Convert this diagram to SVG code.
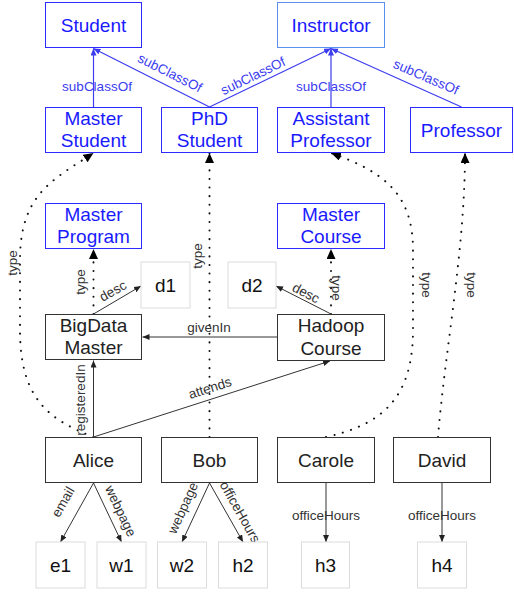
<svg xmlns="http://www.w3.org/2000/svg" width="514" height="593" viewBox="0 0 514 593">
<defs>
<marker id="arrB" markerUnits="userSpaceOnUse" markerWidth="8" markerHeight="8" refX="7" refY="3" orient="auto"><path d="M0,0 L7,3 L0,6 z" fill="#3c3cf0"/></marker>
<marker id="arrK" markerUnits="userSpaceOnUse" markerWidth="8" markerHeight="8" refX="7" refY="3" orient="auto"><path d="M0,0 L7,3 L0,6 z" fill="#222"/></marker>
<marker id="arrT" markerUnits="userSpaceOnUse" markerWidth="12" markerHeight="12" refX="10" refY="4.5" orient="auto"><path d="M0,0 L10,4.5 L0,9 z" fill="#000"/></marker>
</defs>
<style>
text{font-family:"Liberation Sans",Arial,sans-serif;text-anchor:middle}
.cls rect{fill:#fff;stroke:#2b2bff;stroke-width:1}
.cls text{fill:#1a1aff;font-size:19px}
.inst rect{stroke:#5b8ff0}
.ind rect{fill:#fff;stroke:#333;stroke-width:1}
.ind text{fill:#222;font-size:19px}
.lit rect{fill:#fff;stroke:#dcdcdc;stroke-width:1}
.lit text{fill:#111;font-size:19px}
.sub{fill:none;stroke:#3c3cf0;stroke-width:1.2;marker-end:url(#arrB)}
.sol{fill:none;stroke:#333;stroke-width:1;marker-end:url(#arrK)}
.dot{fill:none;stroke:#111;stroke-width:2;stroke-linecap:round;stroke-dasharray:0.1 8.5;marker-end:url(#arrT)}
.lb{font-size:13.5px;fill:#333;dominant-baseline:central}
.lbb{font-size:13.5px;fill:#3c3cf0;dominant-baseline:central}
</style>
<g id="connectors">
<path class="sub" d="M93.5,107 L93.5,48.5"/>
<path class="sub" d="M209.5,107 L93.5,48.5"/>
<path class="sub" d="M209.5,107 L331,48.5"/>
<path class="sub" d="M331,107 L331,48.5"/>
<path class="sub" d="M461.5,107 L331,48.5"/>
<path class="dot" d="M93.5,314 L93.5,249"/>
<path class="dot" d="M331,314 L331,249"/>
<path class="dot" d="M209.5,437 L209.5,153"/>
<path class="dot" d="M93.5,437 C50,420 20,400 20,330 L20,260 C20,195 52,180 93.5,153"/>
<path class="dot" d="M326,437 C380,425 413,400 413,330 L413,250 C413,195 385,172 331,153"/>
<path class="dot" d="M438,437 C445,350 465,250 465,153"/>
<path class="sol" d="M277,337 L142.5,337"/>
<path class="sol" d="M93.5,314 L141,286"/>
<path class="sol" d="M331,314 L276,286"/>
<path class="sol" d="M93.5,437 L93.5,360.5"/>
<path class="sol" d="M93.5,437 L330,361"/>
<path class="sol" d="M93.5,483 L60.5,542"/>
<path class="sol" d="M93.5,483 L121.5,542"/>
<path class="sol" d="M209.5,483 L182,542"/>
<path class="sol" d="M209.5,483 L243,542"/>
<path class="sol" d="M326,483 L326,542"/>
<path class="sol" d="M442,483 L442,542"/>
<text class="lbb" x="97" y="86">subClassOf</text>
<text class="lbb" transform="translate(170,73) rotate(26.8)">subClassOf</text>
<text class="lbb" transform="translate(253,76) rotate(-25.9)">subClassOf</text>
<text class="lbb" x="331" y="86">subClassOf</text>
<text class="lbb" transform="translate(426,77) rotate(23.5)">subClassOf</text>
<text class="lb" transform="translate(80,282) rotate(-90)">type</text>
<text class="lb" transform="translate(113,291) rotate(-29.6)">desc</text>
<text class="lb" transform="translate(197,256) rotate(-90)">type</text>
<text class="lb" transform="translate(12,263) rotate(-90)">type</text>
<text class="lb" transform="translate(306,293) rotate(27.4)">desc</text>
<text class="lb" transform="translate(336,288) rotate(90)">type</text>
<text class="lb" x="209" y="327">givenIn</text>
<text class="lb" transform="translate(426,285) rotate(90)">type</text>
<text class="lb" transform="translate(471.5,285) rotate(90)">type</text>
<text class="lb" transform="translate(80,400) rotate(-90)">registeredIn</text>
<text class="lb" transform="translate(210,388) rotate(-17.7)">attends</text>
<text class="lb" transform="translate(63,502) rotate(-60.3)">email</text>
<text class="lb" transform="translate(120.5,511) rotate(64.5)">webpage</text>
<text class="lb" transform="translate(183,508) rotate(-65.5)">webpage</text>
<text class="lb" transform="translate(240,512) rotate(60.5)">officeHours</text>
<text class="lb" x="326" y="515">officeHours</text>
<text class="lb" x="442" y="515">officeHours</text>
</g>
<g id="Student" class="cls"><rect x="45.5" y="2.5" width="96" height="45"/><text x="93.5" y="31.8">Student</text></g>
<g id="Instructor" class="cls inst"><rect x="277.5" y="2.5" width="107" height="45"/><text x="331" y="31.8">Instructor</text></g>
<g id="MasterStudent" class="cls"><rect x="45.5" y="107.5" width="96" height="45"/><text x="93.5" y="124.5">Master</text><text x="93.5" y="147">Student</text></g>
<g id="PhDStudent" class="cls"><rect x="161.5" y="107.5" width="96" height="45"/><text x="209.5" y="124.5">PhD</text><text x="209.5" y="147">Student</text></g>
<g id="AssistantProfessor" class="cls"><rect x="277.5" y="107.5" width="107" height="45"/><text x="331" y="124.5">Assistant</text><text x="331" y="147">Professor</text></g>
<g id="Professor" class="cls"><rect x="410.5" y="107.5" width="102" height="45"/><text x="461.5" y="136.5">Professor</text></g>
<g id="MasterProgram" class="cls"><rect x="45.5" y="203.5" width="96" height="45"/><text x="93.5" y="220.5">Master</text><text x="93.5" y="243">Program</text></g>
<g id="MasterCourse" class="cls"><rect x="277.5" y="203.5" width="107" height="45"/><text x="331" y="220.5">Master</text><text x="331" y="243">Course</text></g>
<g id="d1" class="lit"><rect x="141" y="262" width="49" height="46"/><text x="165.5" y="291.8">d1</text></g>
<g id="d2" class="lit"><rect x="228" y="262" width="48" height="46"/><text x="252" y="291.8">d2</text></g>
<g id="BigDataMaster" class="ind"><rect x="45.5" y="314.5" width="96" height="45"/><text x="93.5" y="331.5">BigData</text><text x="93.5" y="354">Master</text></g>
<g id="HadoopCourse" class="ind"><rect x="277.5" y="314.5" width="107" height="46"/><text x="331" y="332">Hadoop</text><text x="331" y="354.5">Course</text></g>
<g id="Alice" class="ind"><rect x="45.5" y="437.5" width="96" height="45"/><text x="93.5" y="466.8">Alice</text></g>
<g id="Bob" class="ind"><rect x="161.5" y="437.5" width="96" height="45"/><text x="209.5" y="466.8">Bob</text></g>
<g id="Carole" class="ind"><rect x="277.5" y="437.5" width="97" height="45"/><text x="326" y="466.8">Carole</text></g>
<g id="David" class="ind"><rect x="393.5" y="437.5" width="97" height="45"/><text x="442" y="466.8">David</text></g>
<g id="e1" class="lit"><rect x="36" y="542" width="49" height="46"/><text x="60.5" y="571.8">e1</text></g>
<g id="w1" class="lit"><rect x="97" y="542" width="49" height="46"/><text x="121.5" y="571.8">w1</text></g>
<g id="w2" class="lit"><rect x="157.5" y="542" width="49" height="46"/><text x="182" y="571.8">w2</text></g>
<g id="h2" class="lit"><rect x="218.5" y="542" width="49" height="46"/><text x="243" y="571.8">h2</text></g>
<g id="h3" class="lit"><rect x="301.5" y="542" width="48" height="46"/><text x="325.5" y="571.8">h3</text></g>
<g id="h4" class="lit"><rect x="417.5" y="542" width="49" height="46"/><text x="442" y="571.8">h4</text></g>
</svg>
